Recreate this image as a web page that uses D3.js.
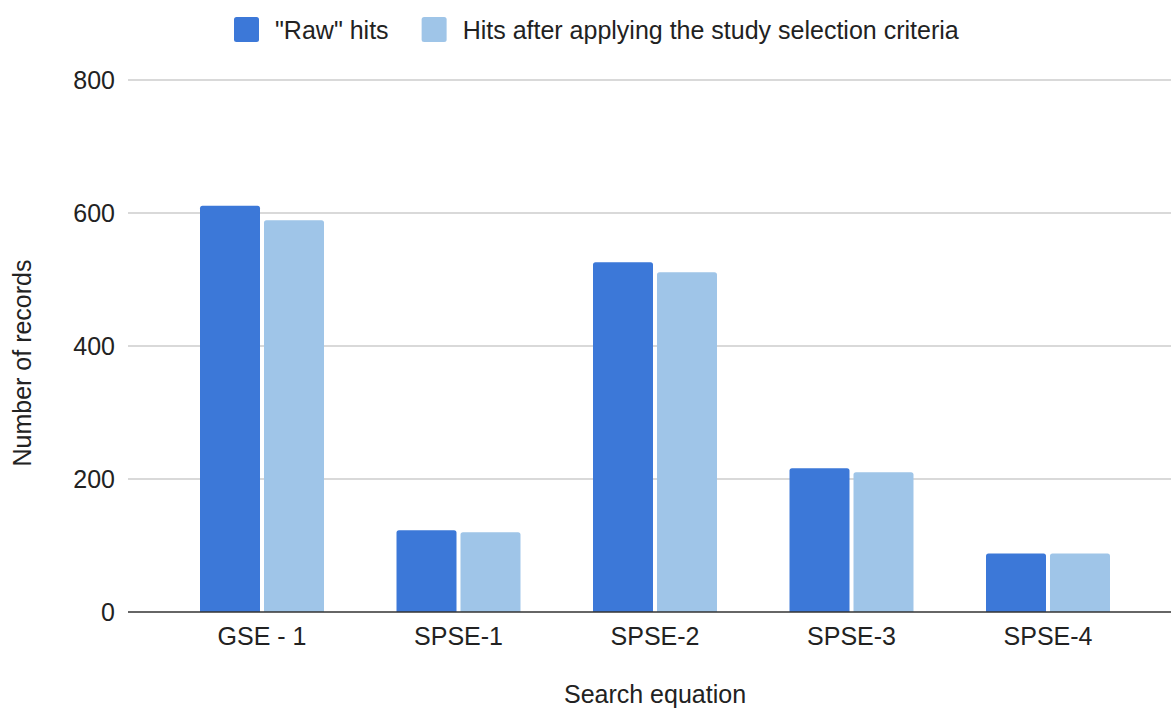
<!DOCTYPE html>
<html>
<head>
<meta charset="utf-8">
<script src="https://cdn.jsdelivr.net/npm/d3@7"></script>
<style>
  body { margin: 0; background: #fff; }
  svg text { font-family: "Liberation Sans", Arial, sans-serif; }
</style>
</head>
<body>
<div class="chart"></div>
<script>
// Data
var categories = ["GSE - 1", "SPSE-1", "SPSE-2", "SPSE-3", "SPSE-4"];
var seriesNames = ["\"Raw\" hits", "Hits after applying the study selection criteria"];
var rawHits = [611, 123, 526, 216, 88];
var selectedHits = [589, 120, 511, 210, 88];
var yTicks = [0, 200, 400, 600, 800];

var colors = ["#3c78d8", "#9fc5e8"];

var svgWidth = 1171, svgHeight = 711;
var plot = { left: 128, right: 1171, top: 80, bottom: 612 };
var fontSize = "25px";

var svg = d3.select(".chart")
  .append("svg")
  .attr("width", svgWidth)
  .attr("height", svgHeight);

var rows = categories.map(function(c, i) {
  return { cat: c, values: [rawHits[i], selectedHits[i]] };
});

var yScale = d3.scaleLinear().domain([0, 800]).range([plot.bottom, plot.top]);

var x0 = d3.scaleBand()
  .domain(categories)
  .range([163.75, 1146.25])
  .paddingInner(0.369)
  .paddingOuter(0.1845);

var x1 = d3.scaleBand()
  .domain([0, 1])
  .range([0, x0.bandwidth()])
  .paddingInner(0.0625);

// gridlines
svg.append("g")
  .selectAll("line")
  .data(yTicks.filter(function(d) { return d > 0; }))
  .enter()
  .append("line")
  .attr("x1", plot.left)
  .attr("x2", plot.right)
  .attr("y1", function(d) { return yScale(d); })
  .attr("y2", function(d) { return yScale(d); })
  .attr("stroke", "#cccccc")
  .attr("stroke-width", 1.5);

// y tick labels
svg.append("g")
  .selectAll("text")
  .data(yTicks)
  .enter()
  .append("text")
  .attr("x", 115)
  .attr("y", function(d) { return yScale(d); })
  .attr("dy", "0.36em")
  .attr("text-anchor", "end")
  .attr("font-size", fontSize)
  .attr("fill", "#222")
  .text(function(d) { return d; });

// bars with slightly rounded tops
function barPath(x, y, w, h, r) {
  r = Math.min(r, h, w / 2);
  return "M" + x + "," + (y + h) +
    "V" + (y + r) +
    "Q" + x + "," + y + " " + (x + r) + "," + y +
    "H" + (x + w - r) +
    "Q" + (x + w) + "," + y + " " + (x + w) + "," + (y + r) +
    "V" + (y + h) + "Z";
}

var groups = svg.append("g")
  .selectAll("g")
  .data(rows)
  .enter()
  .append("g")
  .attr("transform", function(d) { return "translate(" + x0(d.cat) + ",0)"; });

groups.selectAll("path")
  .data(function(d) { return d.values.map(function(v, i) { return { i: i, v: v }; }); })
  .enter()
  .append("path")
  .attr("d", function(d) {
    var y = yScale(d.v);
    return barPath(x1(d.i), y, x1.bandwidth(), yScale(0) - y, 2.5);
  })
  .attr("fill", function(d) { return colors[d.i]; });

// baseline
svg.append("line")
  .attr("x1", plot.left)
  .attr("x2", plot.right)
  .attr("y1", yScale(0))
  .attr("y2", yScale(0))
  .attr("stroke", "#333")
  .attr("stroke-width", 1.5);

// x labels
svg.append("g")
  .selectAll("text")
  .data(categories)
  .enter()
  .append("text")
  .attr("x", function(d) { return x0(d) + x0.bandwidth() / 2; })
  .attr("y", 645)
  .attr("text-anchor", "middle")
  .attr("font-size", fontSize)
  .attr("fill", "#222")
  .text(function(d) { return d; });

// axis titles
svg.append("text")
  .attr("x", 655)
  .attr("y", 703)
  .attr("text-anchor", "middle")
  .attr("font-size", fontSize)
  .attr("fill", "#222")
  .text("Search equation");

svg.append("text")
  .attr("transform", "translate(31,363) rotate(-90)")
  .attr("text-anchor", "middle")
  .attr("font-size", fontSize)
  .attr("fill", "#222")
  .text("Number of records");

// legend
var legend = svg.append("g").attr("transform", "translate(234,17)");
var lx = 0;
seriesNames.forEach(function(name, i) {
  var item = legend.append("g").attr("transform", "translate(" + lx + ",0)");
  item.append("rect")
    .attr("width", 25)
    .attr("height", 25)
    .attr("rx", 2.5)
    .attr("fill", colors[i]);
  var t = item.append("text")
    .attr("x", 41)
    .attr("y", 12.5)
    .attr("dy", "0.36em")
    .attr("font-size", fontSize)
    .attr("fill", "#222")
    .text(name);
  lx += 41 + t.node().getComputedTextLength() + 33;
});
</script>
</body>
</html>
